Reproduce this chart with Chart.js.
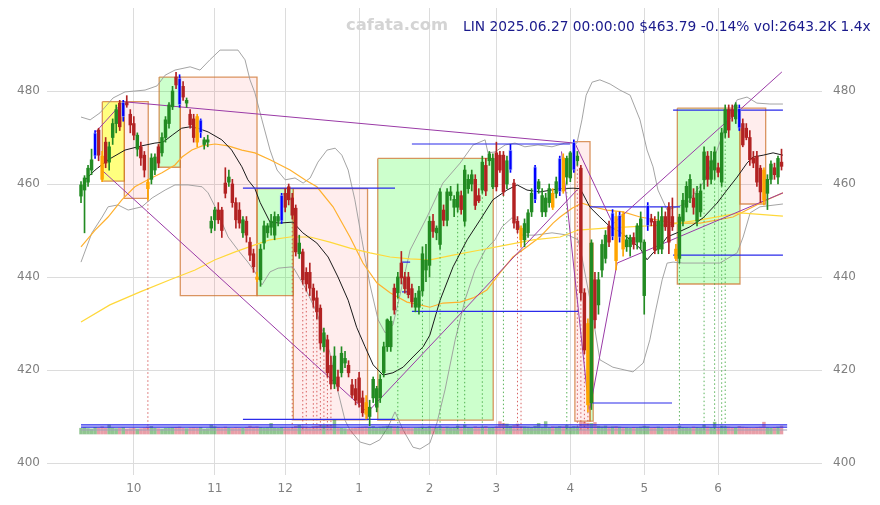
<!DOCTYPE html>
<html><head><meta charset="utf-8">
<script src="https://cdn.jsdelivr.net/npm/chart.js@4.4.1/dist/chart.umd.min.js"></script>
<style>
html,body{margin:0;padding:0;background:#fff;}
#wrap{position:relative;width:880px;height:505px;overflow:hidden;}
canvas{position:absolute;left:0;top:0;}
#brand{position:absolute;left:346px;top:15px;font:bold 16.4px "DejaVu Sans";color:#d4d4d4;line-height:20px;white-space:nowrap;}
#info{position:absolute;left:463px;top:17px;font:13.8px "DejaVu Sans";color:#1a1a8c;line-height:18px;white-space:nowrap;}
</style></head><body>
<div id="wrap"><canvas id="c" width="880" height="505"></canvas>
<div id="brand">cafata.com</div><div id="info">LIN 2025.06.27 00:00:00 $463.79 -0.14% vol:2643.2K 1.4x</div></div>
<script>
// ---------- DATA ----------
const monthIdx = [15, 38, 58, 79, 99, 118, 139, 160, 181];
const monthLabels = ['10', '11', '12', '1', '2', '3', '4', '5', '6'];
const yTicks = [400, 420, 440, 460, 480];

const open = [
457.4,458.7,460.4,463,466,471.6,466,469,464.7,470,
473,477.4,474.4,477.5,475,473,467.5,468,466.2,460.4,
461,463,468,466.7,470,473,476.6,483,482.8,481,
477.4,475,474,474.5,471,468.5,469,450.5,452.3,454.4,
454.4,460.2,460.4,460,456,454.4,449.5,452,447.5,445,
440,439.4,447.3,449.5,450.7,449,452,452,458,459.4,
457,454.8,445,445.4,441,441,437.6,435.5,433.3,425,
426.5,421,417,418.5,419.4,421.5,421,416.8,416,418.3,
414,413,410,414,412,414,419.4,425,425,437.6,
436.6,443,440,440,437.5,433.5,433.5,437,441.5,442.5,
452,449.5,447,454.4,452.2,457.5,455,455,457.5,452,
459,460,461,457.5,458.7,464,465,459.4,466.7,466.2,
466.2,460,463,460.2,452,450.5,448,449.5,454,456.6,
459,454,454,456,458,458,458.3,465.6,461.5,461.3,
463,465,463.4,436.6,430,413,439.4,434,441.5,444,
451,448.6,453,448.5,453.5,446.5,446.5,448.5,447.5,447.5,
436,451,452.5,452,446,446,453,455,453,446,
444,452,455,457,457,452,454,460.9,466,461,
463,463.5,460.4,471,476,476,474,476.3,473,472,
470,465.6,466,463.4,463,458,461,463.5,461.5,464.7];
const high = [
460.5,461.8,464,467.5,471.5,472,467,470,469,474,
477,478,478,479,476,474.5,471,469,467,461,
466.5,466.5,468.5,471,474.5,477.5,481,484,483.5,482,
478.5,476,475,475,474,470,470.5,453,455,456,
455,463.5,463,461,457,456,453,453,448.5,446,
441,447,452,451.5,453.5,454,453.5,458,459,460,
458,455.5,449,446,442,443,438.5,437,434,429,
427.5,423,425,420,425,424,422,418,418,419.5,
415.5,414.5,413.5,418.5,416.5,419,426,431,431.5,438.5,
441,445.5,441,441,438.5,436.5,438,446.5,447,453,
453.5,451,459,455.5,459,459.5,457.5,460,458.5,464,
462,463,462,459,466,465.5,467,466.5,469,467,
467,466,468.5,461,453,451,452.5,454.5,459,464,
461,459,458,460,459,461.5,466,466.5,466,467,
469.5,467,464,437.5,431,448,441,441,448,450,
452,454.5,454,454,454,449,449,449.5,451.5,454,
448,456,453.5,453,454,455,454,456,457,447,
453.5,458,460.5,462,459,459.5,460,468,467,467,
468,464.5,472,477,477,477,477.5,477,474,473,
471.5,467,467,464,463.5,462,465,464.5,466,467.5];
const low = [
456,449.5,459.5,462,465.5,465,460.5,463.5,463,468.5,
471,471.5,473.5,476.5,471,469.5,466,464,461.5,456.5,
460,462,463.5,466,469,472,476,480.5,476.5,478,
476.5,472,469,468,470,467.5,468,449.5,450,451.5,
448.5,457,459.5,455,450.5,450.5,448.5,447.5,443.5,441,
439,438,446,448.5,449,448,451,451.5,454,455.5,
452.5,444.5,444,438.5,437,436,433.5,431,424.5,424,
418.5,416,416,415.5,418.5,420.5,418.5,414,412.5,412,
410,409.5,408,413,411,413,418.5,424,424,432,
435.5,438.5,436.5,435.5,433.5,432.5,432,436,439,440,
448.5,448,446,451,451,456.5,453,454,453.5,451,
458,458.5,454.5,456,458,457.5,464,459,458.5,462.5,
457.5,459,462.5,450.5,449.5,446.5,446.5,448.5,453,456,
458,453,453,455,454.5,457,457.5,458,460,460.5,
462.5,464,435,423.5,411,411.5,429,432,440,443,
446.5,448,441.5,447.5,444.5,445.5,444.5,446,446,446,
432,450,451,445,445,445,450,445,450,443.5,
443,451,454,456,453.5,451,453,459,459.5,460,
461,461.5,459.5,470,470,473.5,473,471.5,468,469.5,
464,463.5,459.5,456,455.5,454.5,460,461,460,463];
const close = [
459.8,461.3,463.4,465.2,471,466.2,461,464.5,468,473,
476,472.3,477.6,477,472.7,470.5,470.5,465.6,463,459,
465.6,465.8,464.5,470,473.8,477,480,481.3,477,478.7,
478,472.7,470,469,473.8,469.5,469.5,452,454.4,452.3,
450,458,461.5,456,452.3,451.6,452.3,449,444.7,442.2,
439.5,446,451,451,452,453,453,457.6,455,456.6,
453.3,445.4,447.3,439.4,438.5,437.6,435,432.5,425.8,428,
419.4,417,423,416.5,423.6,422.5,419.4,414.6,413.5,413,
410.8,410.5,412,418,416,418,425,430.8,430.5,432.9,
440,439.8,437.5,436.2,434.7,435.5,437,445,443.6,452,
449.8,450.5,458.3,452.2,458.3,458.3,456.7,458.3,454.5,463,
461,462,455.4,456.4,464.7,458.5,466.5,465.5,459.4,463,
458.3,465,467.3,451.6,450.2,448,451.5,453.8,458,463.7,
460.5,457.5,457,459,455,460.5,465.6,458.5,465.5,466.7,
469,466,436.6,424.3,412.5,447.3,430.8,439.4,447,449,
447.5,453.8,443.5,453.3,446,448,448.5,447,451,452.5,
447.5,455.4,451.8,445.8,452,453,450.8,447.5,450.8,444,
452.9,456.5,459.5,461,455,458,458.5,466.9,461,465,
466.9,462.5,471,476,471.6,474.5,477,472,468.4,470,
465.2,464.5,460.4,458.3,456.5,461,464.3,462,465.5,463.8];
const vol = [
1900,2100,1800,1700,2200,2000,2400,1900,2970,2000,
1800,1900,2100,1700,1800,1900,1700,1800,2000,2300,
2500,1900,1800,1700,1900,2000,2100,2200,2300,1900,
1800,2000,2100,2000,2200,1700,1800,3000,2400,2100,
2000,2300,2000,1900,2100,2000,1900,2200,2600,2300,
2400,2200,2000,2100,3500,2000,1900,2200,2100,2000,
2100,2600,2900,2400,2300,2200,2500,2600,2900,2800,
2900,2900,4600,2000,1900,1800,1700,1900,2000,2200,
2300,2400,2200,2500,2100,2300,2400,2600,2500,2400,
2300,2200,2100,2000,1900,2000,2100,2300,2200,2400,
2300,2100,2400,2200,2300,2100,2200,2640,2300,2970,
2200,2100,2400,2200,2300,2500,2100,2200,2400,4100,
3500,3300,2600,2800,3300,2500,2400,2300,2200,2600,
3500,2300,4100,2200,2400,2300,2500,2400,2800,2300,
2500,2400,3900,3900,3600,3500,3800,2600,2400,2640,
2300,2400,2500,2300,2200,2100,2000,2200,2100,2300,
2600,2400,2100,2200,2300,2100,2000,2200,2100,2000,
2640,2200,2100,2000,2300,2200,2100,2970,2300,2200,
3900,2100,2640,2400,2300,2200,2100,2500,2300,2200,
2100,2000,2200,2300,3900,2100,2000,2200,2300,2643];
const blueIdx = [4, 12, 28, 34, 57, 122, 129, 136, 140, 151, 153, 161, 187];
const orangeIdx = [6, 19, 33, 50, 81, 125, 134, 137, 144, 152, 154, 169, 194];

// indicator lines: [candle index, price]
const ma20Pts = [[1.1,460.8],[4,463],[7.7,465.2],[12.5,467.3],[17.2,468.2],[21,468.8],[23.3,469],[25.9,470.5],[28.6,472],[31,472.3],[33.2,472],[36.1,471.2],[40,469.5],[42.8,467.3],[45.7,463.7],[47.4,460.9],[49.4,459],[50.9,456],[53.7,451.8],[56.5,451.6],[60.2,451.8],[63,449.5],[67,447.3],[70.2,444.3],[73,440],[75.9,435],[78.3,429.2],[80.7,425],[83,421.1],[85.8,418.9],[88.6,419.4],[91.5,420.6],[94.3,422.8],[97.2,425],[99.1,427.5],[102,435],[105.7,442.2],[109.7,448],[113.4,452.3],[117,456.6],[121,458.7],[123.9,459.8],[126.7,458.7],[130.4,458.3],[136,459],[139.8,459.1],[141.8,459],[144.6,455],[147.4,452.9],[150.3,450.8],[153.1,449.7],[156,448],[158.8,446.2],[160.8,443.7],[162.5,445.2],[164.5,446.5],[166.5,448.6],[169.3,449.5],[173,450.8],[176.7,452.7],[180.7,455.9],[183.5,458.7],[186.4,461.5],[189.2,464.5],[190.9,465.8],[193.8,466.2],[196.6,466.7],[199.4,466.2]];
const bbUpperPts = [[0,474.4],[2.6,473.8],[5.4,475.3],[9.1,478.5],[12.5,479.8],[18.2,480.2],[21.6,481.1],[23.9,483.4],[26.7,484.5],[31,485.2],[33.8,484.5],[36.6,486.7],[39.5,488.8],[44.6,488.8],[46.6,486.7],[48,482.4],[49.4,479.6],[51.4,473.8],[53.7,467.3],[55.7,463],[58,460.9],[60.8,461.3],[63.1,460.2],[65.1,461.3],[67.3,464.7],[69.9,467.3],[72.2,467.7],[74.1,466.2],[75.9,463],[77.8,456.6],[79.8,448],[82.1,438.3],[84.4,430.8],[86.4,428],[88.6,429.7],[90.6,436.1],[93.5,445.8],[98.3,452.9],[102.8,460.2],[107.7,464.5],[111.4,468.4],[114.8,469.5],[115.6,466.7],[117.6,466.9],[120.5,468.4],[123.3,468.8],[126.1,468],[129.8,468.4],[133.8,468],[137.5,468.8],[140.9,468.8],[142.3,473.8],[143.5,479.1],[145.2,481.9],[147.4,482.4],[150.3,481.5],[153.1,480.2],[156,479.1],[158.8,473.8],[160.8,467.3],[162.5,463.7],[163.9,458.7],[166.5,454.4],[169.3,455.1],[172.2,455.9],[175,458.7],[176.7,460.2],[178.7,463.7],[180.7,467.3],[182.4,471],[184.4,475.3],[186.4,478.1],[189.2,478.7],[192,477.4],[195.7,477.2],[199.4,477.2]];
const bbLowerPts = [[0,443.2],[3.1,449.5],[6,452.9],[7.7,455.1],[10.5,455.5],[13.4,454.4],[17.3,455.1],[20.2,457],[23.9,458.7],[26.7,459.8],[30.4,459.8],[34.4,459.4],[36.1,458.1],[38.1,455.1],[40.1,451.6],[41.8,448.6],[44.6,445.8],[47.4,443.2],[49.4,441.1],[51.4,438.3],[53.7,441.1],[56,441.9],[60.2,442.2],[63.6,437.8],[67,432.3],[70.7,423.7],[72.7,416.3],[75,409.2],[76.4,407.1],[79.3,404.5],[82.1,403.9],[84.9,405],[87.2,407.7],[89.2,411],[91.5,407.1],[94.3,403.4],[96.3,403],[99.1,404.3],[101.1,408.6],[103.4,415.7],[106.3,426.5],[109.1,435.1],[111.9,441.5],[114.8,445.8],[117.6,448],[119.6,450.8],[122.4,452.7],[123.9,452.3],[125.3,449],[129,449],[133.8,449.5],[138.4,449],[141.2,448],[142.3,444.3],[144.6,435.1],[147.4,422.2],[151.1,420.6],[154.5,420],[156.8,419.6],[159.7,421.5],[161.6,426.5],[163.1,432.3],[165.1,439.4],[166.5,443],[168.2,443.2],[171,443],[175.9,443],[181.5,443],[184.4,444.3],[186.4,445.2],[188.1,448.6],[190.1,453.8],[192.9,455.1],[199.4,455.7]];
const ma50Pts = [[0,446.5],[4,450.1],[7.7,452.9],[11.6,456.6],[15.3,459.4],[19,460.9],[23,462.4],[26.7,464.1],[28.7,465.8],[31.5,467.3],[34.4,468.2],[38.1,468.6],[41.8,468.2],[45.7,467.3],[49.4,466.7],[53.7,465.2],[59.4,463],[63.6,460.9],[67,459.4],[71.6,455.1],[76.4,448.6],[80.1,443],[84.1,438.7],[87.8,436.6],[92.6,434.6],[96.3,434],[99.1,433.5],[102.8,434.4],[107.7,434.6],[111.4,435.5],[115.3,437.2],[119,440.9],[122.7,444.3],[126.7,446.5],[130.4,448.6],[134.1,451.6],[136.1,452.9],[139.5,454.8],[142.3,455.9],[145.5,455.1],[149.4,454.4],[154,454],[158.8,452.9],[163.6,452.3],[168.2,451.6],[175.9,451.6],[185.2,452.9],[194.9,456.6],[199.4,458.1]];
const ma100Pts = [[0,430.3],[8.2,434],[16.8,436.8],[25.3,439.4],[32.4,441.5],[38.1,443.7],[43.8,445.4],[49.4,446.9],[53.7,448],[59.4,448.6],[65.1,448.6],[70.7,447.5],[76.4,446.2],[82.1,445.2],[87.8,444.3],[93.5,443.9],[99.1,443.7],[105.7,444.7],[113.4,445.8],[121,446.9],[128.4,448],[136.1,448.6],[141.2,450.1],[148.9,450.5],[166.5,451.2],[175.9,452.3],[187.2,453.8],[199.4,453.1]];

// zones: start index, end index, top price, bottom price, kind
const boxX1 = [6.05, 12.3, 22.2, 28.2, 50, 60.3, 84.3, 140.3, 144.6, 169.4, 187.2];
const boxX2 = [12.3, 19.1, 28.2, 50, 60.3, 81.4, 117.1, 144.6, 145.5, 187.2, 194.5];
const boxTop = [477.7, 477.7, 483, 483, 459, 459, 465.5, 469.1, 447.3, 476.3, 476.3];
const boxBot = [460.6, 456.9, 463.6, 436, 436, 409.3, 409.2, 409, 409, 438.5, 455.7];
const boxKind = ['y', 'r', 'g', 'r', 'g', 'r', 'g', 'r', 'g', 'g', 'r'];

// trend lines [x1, price1, x2, price2]
const purpleSegs = [[4.2,471.2,12,477.7],[12,477.7,140.3,468.8],[5.9,463,81.25,411],[81.25,410.8,140.9,458.7],[140.3,468.8,151.1,451.4],[136.5,467,144.3,411.5],[144.6,411.8,152.3,443],[152.3,443,199.4,458.1],[151.1,451.4,199.1,484.1]];
const blueSegs = [[46,459.1,89.2,459.1],[94,468.6,138.9,468.6],[94,432.6,141.2,432.6],[144.6,455.1,170.2,455.1],[144.6,412.9,167.9,412.9],[168.2,444.7,199.4,444.7],[168.2,475.9,199.4,475.9],[46,409.4,89.2,409.4],[91.2,443.2,93.5,443.2],[91.2,436.8,93.5,436.8],[0,408.2,200.6,408.2],[0,407.7,200.6,407.7]];
const graySegs = [[0,407.1,200.6,407.1]];
const redDotIdx = [19, 60, 63, 64, 66, 67, 68, 69, 70, 71, 124, 125, 141, 142, 143, 144];
const greenDotIdx = [90, 97, 102, 107, 109, 114, 120, 138, 170, 177, 180, 182, 183];

// ---------- LAYOUT / STYLE ----------
const X_MIN = -9.66, X_MAX = 210.5, Y_MIN = 397.42, Y_MAX = 497.85;
const DOT_BOTTOM = 407.1;
const VOL_MIN = -41 * 330, VOL_MAX = 426 * 330;
const GREEN = '#228b22', RED = '#b22222', BLUE = '#0000ff', ORANGE = '#ffa500';
const boxFill = { y: 'rgba(255,255,0,0.5)', r: 'rgba(255,0,0,0.07)', g: 'rgba(0,255,0,0.2)' };
const BOX_EDGE = 'rgba(205,115,45,0.75)';
const FONT = { family: 'DejaVu Sans', size: 12 };

const N = close.length;
const idx = Array.from({ length: N }, (_, i) => i);
const candleColor = i => blueIdx.includes(i) ? BLUE : orangeIdx.includes(i) ? ORANGE : (close[i] >= open[i] ? GREEN : RED);
const segData = segs => segs.flatMap(s => [{ x: s[0], y: s[1] }, { x: s[2], y: s[3] }, { x: s[2], y: null }]);
const dotData = list => list.flatMap(i => [{ x: i, y: low[i] }, { x: i, y: DOT_BOTTOM }, { x: i, y: null }]);
const pts = arr => arr.map(p => ({ x: p[0], y: p[1] }));
const line = (data, color, width, order, extra) => Object.assign({ type: 'line', data, borderColor: color, borderWidth: width, pointRadius: 0, fill: false, tension: 0, spanGaps: false, order, yAxisID: 'y' }, extra || {});
const noPad = s => { s.paddingTop = 0; s.paddingBottom = 0; s.paddingLeft = 0; s.paddingRight = 0; };

const datasets = [];
boxX1.forEach((x1, k) => {
  datasets.push(line([{ x: x1, y: boxTop[k] }, { x: boxX2[k], y: boxTop[k] }, { x: boxX2[k], y: boxBot[k] }, { x: x1, y: boxBot[k] }, { x: x1, y: boxTop[k] }],
    BOX_EDGE, 1.3, 30, { fill: 'shape', backgroundColor: boxFill[boxKind[k]] }));
});
datasets.push(line(pts(bbUpperPts), '#9a9a9a', 0.9, 20));
datasets.push(line(pts(bbLowerPts), '#9a9a9a', 0.9, 20));
datasets.push(line(pts(ma100Pts), '#ffd83a', 1.2, 19));
datasets.push(line(pts(ma50Pts), '#ffb02e', 1.2, 19));
datasets.push(line(pts(ma20Pts), '#1a1a1a', 1, 18));
datasets.push({ type: 'bar', yAxisID: 'yv', data: idx.map(i => ({ x: i, y: vol[i] })),
  backgroundColor: idx.map(i => close[i] >= open[i] ? 'rgba(34,139,34,0.5)' : 'rgba(205,40,60,0.45)'),
  barThickness: 2.8, grouped: false, order: 17 });
datasets.push(line(dotData(redDotIdx), 'rgba(205,60,60,0.8)', 1, 16, { borderDash: [1.5, 2.5] }));
datasets.push(line(dotData(greenDotIdx), 'rgba(50,160,50,0.8)', 1, 16, { borderDash: [1.5, 2.5] }));
datasets.push(line(segData(graySegs), '#a0a0b8', 1, 15));
datasets.push(line(segData(blueSegs), '#2b2bea', 1.2, 14));
datasets.push(line(segData(purpleSegs), '#9a3aa6', 1, 13));
datasets.push({ type: 'bar', yAxisID: 'y', data: idx.map(i => ({ x: i, y: [low[i], high[i]] })),
  backgroundColor: idx.map(candleColor), barThickness: 1, grouped: false, order: 6 });
const normIdx = idx.filter(i => !blueIdx.includes(i));
datasets.push({ type: 'bar', yAxisID: 'y', data: normIdx.map(i => ({ x: i, y: [open[i], close[i]] })),
  backgroundColor: normIdx.map(candleColor), barThickness: 2.8, minBarLength: 1, grouped: false, order: 5 });
datasets.push({ type: 'bar', yAxisID: 'y', data: blueIdx.map(i => ({ x: i, y: [open[i], close[i]] })),
  backgroundColor: BLUE, borderColor: 'rgba(160,180,255,0.7)', borderWidth: 1, borderSkipped: false,
  barThickness: 3.6, minBarLength: 1, grouped: false, order: 4 });

new Chart(document.getElementById('c'), {
  type: 'bar',
  data: { datasets },
  options: {
    responsive: false, animation: false, devicePixelRatio: 1,
    layout: { padding: { top: 8, left: 0, right: 0, bottom: 0 } },
    plugins: { legend: { display: false }, tooltip: { enabled: false } },
    scales: {
      x: {
        type: 'linear', min: X_MIN, max: X_MAX, offset: false,
        afterBuildTicks: s => { s.ticks = monthIdx.map(v => ({ value: v })); },
        afterFit: s => { s.height = 30; noPad(s); },
        grid: { color: '#dcdcdc', drawTicks: false, offset: false }, border: { display: false },
        ticks: { callback: (v, i) => monthLabels[i], color: '#808080', font: FONT, padding: 7, maxRotation: 0, autoSkip: false }
      },
      y: {
        type: 'linear', position: 'left', min: Y_MIN, max: Y_MAX,
        afterBuildTicks: s => { s.ticks = yTicks.map(v => ({ value: v })); },
        afterFit: s => { s.width = 47; noPad(s); },
        grid: { color: '#dcdcdc', drawTicks: false }, border: { display: false },
        ticks: { color: '#808080', font: FONT, padding: 7 }
      },
      y2: {
        type: 'linear', position: 'right', min: Y_MIN, max: Y_MAX,
        afterBuildTicks: s => { s.ticks = yTicks.map(v => ({ value: v })); },
        afterFit: s => { s.width = 58; noPad(s); },
        grid: { display: false, drawTicks: false }, border: { display: false },
        ticks: { color: '#808080', font: FONT, padding: 11 }
      },
      yv: { type: 'linear', display: false, min: VOL_MIN, max: VOL_MAX }
    }
  }
});
</script></body></html>
